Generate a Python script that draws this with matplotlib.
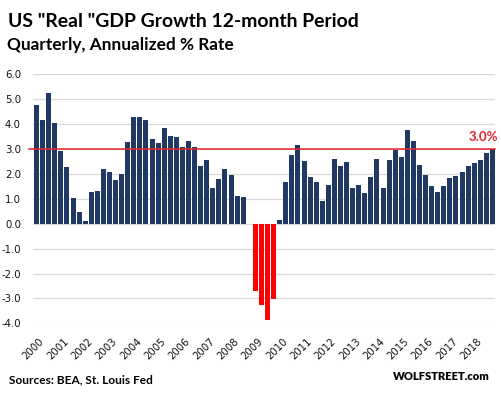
import matplotlib
matplotlib.use("Agg")
import matplotlib.pyplot as plt

# ---- data ----
start_year, start_q = 1999, 4
gdp_growth = [
    4.77, 4.17, 5.25, 4.06, 2.93, 2.28, 1.04, 0.48, 0.12, 1.28,
    1.32, 2.20, 2.08, 1.76, 2.00, 3.29, 4.29, 4.29, 4.17, 3.41,
    3.25, 3.85, 3.53, 3.49, 3.09, 3.33, 3.09, 2.32, 2.57, 1.44,
    1.80, 2.20, 1.96, 1.12, 1.08, 0.00, -2.71, -3.27, -3.87, -3.01,
    0.16, 1.68, 2.77, 3.17, 2.53, 1.88, 1.68, 0.92, 1.56, 2.61,
    2.32, 2.48, 1.44, 1.56, 1.24, 1.88, 2.61, 1.44, 2.57, 2.97,
    2.69, 3.77, 3.33, 2.36, 1.96, 1.52, 1.28, 1.52, 1.84, 1.92,
    2.08, 2.32, 2.44, 2.57, 2.85, 3.00,
]
year_labels = [str(y) for y in range(2000, 2019)]
ref_value = 3.0
ref_label = "3.0%"
y_ticks = [-4, -3, -2, -1, 0, 1, 2, 3, 4, 5, 6]
y_tick_labels = ["-4.0", "-3.0", "-2.0", "-1.0", "0.0", "1.0", "2.0", "3.0", "4.0", "5.0", "6.0"]

quarters = []
y, q = start_year, start_q
for _ in gdp_growth:
    quarters.append(f"{y}Q{q}")
    q += 1
    if q > 4:
        q, y = 1, y + 1

# ---- style ----
W, H = 502, 396
NAVY = "#1F3864"
RED_BAR = "#FF0000"
RED_LINE = "#E3262B"
GRID = "#D9D9D9"
TXT = "#111111"
TITLE_FONT = ["Lato", "DejaVu Sans"]

fig = plt.figure(figsize=(W / 100, H / 100), dpi=100)
fig.patch.set_facecolor("white")

def px(x0, y0, x1, y1):
    return [x0 / W, 1 - y1 / H, (x1 - x0) / W, (y1 - y0) / H]

ax = fig.add_axes(px(33.5, 74.3, 495.5, 323.3))
xs = list(range(len(gdp_growth)))
colors = [NAVY if v >= 0 else RED_BAR for v in gdp_growth]
ax.bar(xs, gdp_growth, width=0.82, color=colors, zorder=3)

ax.set_xlim(-0.5, len(gdp_growth) - 0.5)
ax.set_ylim(-4, 6)
ax.set_yticks(y_ticks)
ax.set_yticklabels(y_tick_labels)
ax.yaxis.grid(True, color=GRID, lw=0.9, zorder=0)
ax.set_axisbelow(True)
for s in ax.spines.values():
    s.set_visible(False)
ax.tick_params(axis="y", length=0, pad=9, labelsize=7.3, labelcolor=TXT)

tick_pos = [quarters.index(f"{yl}Q1") for yl in year_labels]
ax.set_xticks(tick_pos)
ax.set_xticklabels(year_labels, rotation=45, ha="right", va="center",
                   rotation_mode="anchor")
ax.tick_params(axis="x", length=0, pad=12, labelsize=7.3, labelcolor=TXT)

# reference line at 3.0
ax.plot([-1.25, len(gdp_growth) - 0.5], [ref_value, ref_value], color=RED_LINE,
        lw=1.1, zorder=4, clip_on=False)
fig.text(498 / W, 1 - 137 / H, ref_label, color=RED_LINE, fontsize=9.6,
         fontweight="bold", ha="right", va="center", family=TITLE_FONT)

# texts
fig.canvas.draw()
renderer = fig.canvas.get_renderer()

def fit_text(x, y_base, s, target_w, size, **kw):
    t = fig.text(x / W, 1 - y_base / H, s, fontsize=size, va="baseline", **kw)
    w = t.get_window_extent(renderer).width
    if w > 0:
        t.set_fontsize(size * target_w / w)
    return t

fit_text(8, 26.7, 'US "Real "GDP Growth 12-month Period', 349, 13,
         fontweight="bold", color="black", family=TITLE_FONT)
fit_text(7, 50, "Quarterly, Annualized % Rate", 226, 11,
         fontweight="bold", color="black", family=TITLE_FONT)
fit_text(9.3, 383, "Sources: BEA, St. Louis Fed", 143, 8.5,
         fontweight="bold", color="black", family=TITLE_FONT)
fit_text(393, 380.5, "WOLFSTREET.com", 96, 8.5,
         fontweight="heavy", color="black", family=TITLE_FONT)

fig.savefig("out.png", dpi=100, facecolor="white")
